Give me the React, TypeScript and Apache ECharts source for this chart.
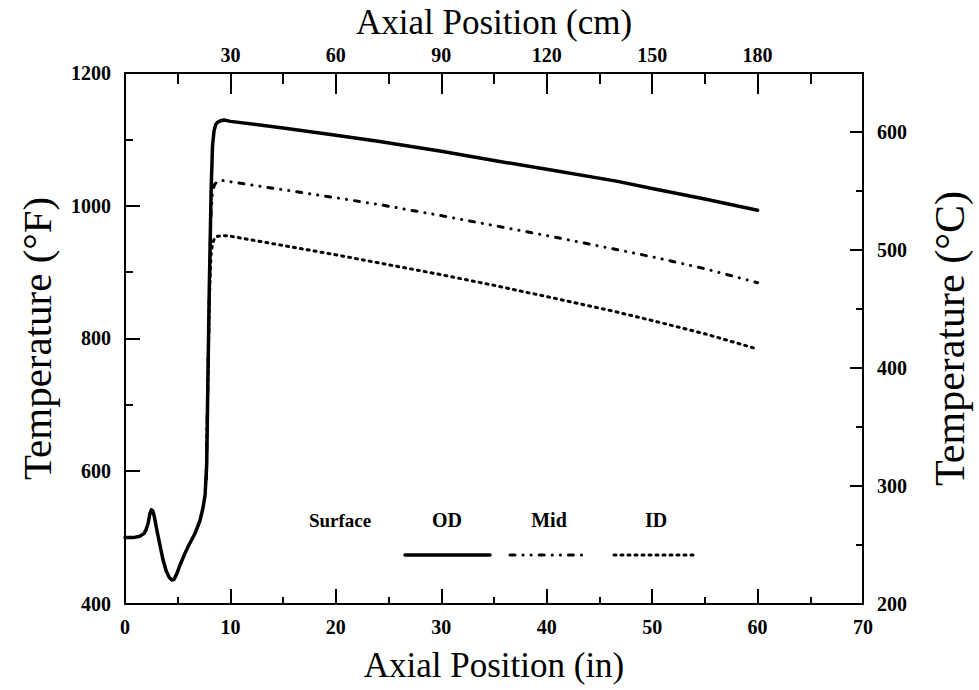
import React, { useEffect, useRef } from "react";
import * as echarts from "echarts";

// ---- data ----
const odX = [0, 0.8, 1.4, 1.8, 2.0, 2.2, 2.35, 2.5, 2.65, 2.8, 3.0, 3.3, 3.6, 3.9, 4.2, 4.45, 4.65, 4.9, 5.2, 5.6, 6.0, 6.6, 7.1, 7.4, 7.6, 7.75, 7.85, 8.0, 8.17, 8.3, 8.45, 8.6, 8.8, 9.1, 9.4, 10, 15, 20, 24, 30, 35, 40, 46.6, 50, 55, 60];
const odT = [500, 500, 502, 506, 512, 522, 535, 542, 540, 530, 513, 490, 467, 450, 440, 436, 437, 445, 458, 473, 487, 505, 525, 545, 565, 610, 723, 880, 1023, 1090, 1113, 1122, 1126, 1128, 1129, 1127, 1117, 1106, 1097, 1082, 1068, 1055, 1037, 1026, 1010, 993];

const midX = [7.7, 7.85, 8.0, 8.15, 8.3, 8.5, 8.8, 9.3, 10, 15, 20, 24, 30, 35, 40, 46.6, 50, 55, 60];
const midT = [588, 723, 870, 985, 1020, 1032, 1037, 1038, 1036, 1024, 1012, 1002, 985, 970, 955, 934, 923, 905, 884];

const idX = [7.7, 7.85, 8.0, 8.15, 8.3, 8.5, 8.8, 9.3, 10, 15, 20, 24, 30, 35, 40, 46.6, 50, 55, 60];
const idT = [588, 723, 860, 925, 943, 951, 954, 955, 954, 940, 926, 914, 896, 880, 863, 840, 827, 807, 784];

const legendTitle = "Surface";
const seriesNames = ["OD", "Mid", "ID"];

const FONT = '"Liberation Serif", "Times New Roman", serif';

const zip = (xs: number[], ys: number[]) => xs.map((x, i) => [x, ys[i]]);

export default function App() {
  const ref = useRef<HTMLDivElement>(null);

  useEffect(() => {
    if (!ref.current) return;
    const chart = echarts.init(ref.current, undefined, { renderer: "svg" });

    const black = "#000";
    const axisLine = { show: true, onZero: false, lineStyle: { color: black, width: 2 } };
    const tickLabel = {
      color: black,
      fontFamily: FONT,
      fontWeight: "bold" as const,
      fontSize: 20,
    };
    const nameStyle = { color: black, fontFamily: FONT, fontSize: 35 };
    const tick = (length: number) => ({
      show: true,
      inside: true,
      length,
      lineStyle: { color: black, width: 2 },
    });
    const minorAxis = (base: any, interval: number, length: number) => ({
      ...base,
      type: "value",
      interval,
      axisLine: { show: false, onZero: false },
      axisTick: tick(length),
      axisLabel: { show: false },
      splitLine: { show: false },
    });

    const midDash = [5, 8, 0.1, 8, 0.1, 8];
    const idDash = [2, 5];

    const option: any = {
      animation: false,
      backgroundColor: "#fff",
      grid: { left: 125, right: 111, top: 67, bottom: 86, containLabel: false },
      xAxis: [
        {
          type: "value",
          position: "bottom",
          min: 0,
          max: 70,
          interval: 10,
          axisLine,
          axisTick: tick(15),
          splitLine: { show: false },
          axisLabel: { ...tickLabel, margin: 13, formatter: (v: number) => String(v) },
          name: "Axial Position (in)",
          nameLocation: "middle",
          nameGap: 44,
          nameTextStyle: nameStyle,
        },
        {
          type: "value",
          position: "top",
          min: 0,
          max: 210,
          interval: 30,
          axisLine,
          axisTick: tick(21),
          splitLine: { show: false },
          axisLabel: {
            ...tickLabel,
            margin: 8,
            formatter: (v: number) => (v === 0 || v === 210 ? "" : String(v)),
          },
          name: "Axial Position (cm)",
          nameLocation: "middle",
          nameGap: 28,
          nameTextStyle: nameStyle,
        },
        minorAxis({ position: "bottom", min: 0, max: 70 }, 5, 7),
        minorAxis({ position: "top", min: 0, max: 210 }, 15, 11),
      ],
      yAxis: [
        {
          type: "value",
          position: "left",
          min: 400,
          max: 1200,
          interval: 200,
          axisLine,
          axisTick: tick(15),
          splitLine: { show: false },
          axisLabel: { ...tickLabel, margin: 14, formatter: (v: number) => String(v) },
          name: "Temperature (°F)",
          nameLocation: "middle",
          nameRotate: 90,
          nameGap: 68,
          nameTextStyle: { ...nameStyle, fontSize: 41 },
        },
        {
          type: "value",
          position: "right",
          min: 200,
          max: 650,
          interval: 100,
          axisLine,
          axisTick: tick(13),
          splitLine: { show: false },
          axisLabel: {
            ...tickLabel,
            margin: 14,
            formatter: (v: number) => (v % 100 === 0 ? String(v) : ""),
          },
          name: "Temperature (°C)",
          nameLocation: "middle",
          nameRotate: 90,
          nameGap: 66,
          nameTextStyle: { ...nameStyle, fontSize: 42 },
        },
        minorAxis({ position: "left", min: 400, max: 1200 }, 100, 8),
        minorAxis({ position: "right", min: 200, max: 650 }, 50, 7),
      ],
      series: [
        {
          name: seriesNames[0],
          type: "line",
          xAxisIndex: 0,
          yAxisIndex: 0,
          data: zip(odX, odT),
          showSymbol: false,
          smooth: false,
          lineStyle: { color: black, width: 3.5, cap: "round", join: "round" },
          z: 3,
        },
        {
          name: seriesNames[1],
          type: "line",
          xAxisIndex: 0,
          yAxisIndex: 0,
          data: zip(midX, midT),
          showSymbol: false,
          smooth: false,
          lineStyle: { color: black, width: 3, type: midDash, cap: "round", join: "round" },
          z: 2,
        },
        {
          name: seriesNames[2],
          type: "line",
          xAxisIndex: 0,
          yAxisIndex: 0,
          data: zip(idX, idT),
          showSymbol: false,
          smooth: false,
          lineStyle: { color: black, width: 3, type: idDash, cap: "round", join: "round" },
          z: 2,
        },
      ],
      graphic: [
        {
          type: "text",
          x: 340,
          y: 520,
          style: { text: legendTitle, fill: black, font: `bold 19px ${FONT}`, align: "center", verticalAlign: "middle" },
        },
        {
          type: "text",
          x: 447,
          y: 520,
          style: { text: seriesNames[0], fill: black, font: `bold 20px ${FONT}`, align: "center", verticalAlign: "middle" },
        },
        {
          type: "text",
          x: 549,
          y: 520,
          style: { text: seriesNames[1], fill: black, font: `bold 20px ${FONT}`, align: "center", verticalAlign: "middle" },
        },
        {
          type: "text",
          x: 656,
          y: 520,
          style: { text: seriesNames[2], fill: black, font: `bold 20px ${FONT}`, align: "center", verticalAlign: "middle" },
        },
        {
          type: "line",
          shape: { x1: 405, y1: 555, x2: 490, y2: 555 },
          style: { stroke: black, lineWidth: 3.5, lineCap: "round" },
        },
        {
          type: "line",
          shape: { x1: 510, y1: 555, x2: 588, y2: 555 },
          style: { stroke: black, lineWidth: 3, lineDash: midDash, lineCap: "round" },
        },
        {
          type: "line",
          shape: { x1: 614, y1: 555, x2: 698, y2: 555 },
          style: { stroke: black, lineWidth: 3, lineDash: idDash, lineCap: "round" },
        },
      ],
    };

    chart.setOption(option);
    return () => chart.dispose();
  }, []);

  return (
    <div
      ref={ref}
      style={{ position: "fixed", left: 0, top: 0, width: 979, height: 690, background: "#fff" }}
    />
  );
}
